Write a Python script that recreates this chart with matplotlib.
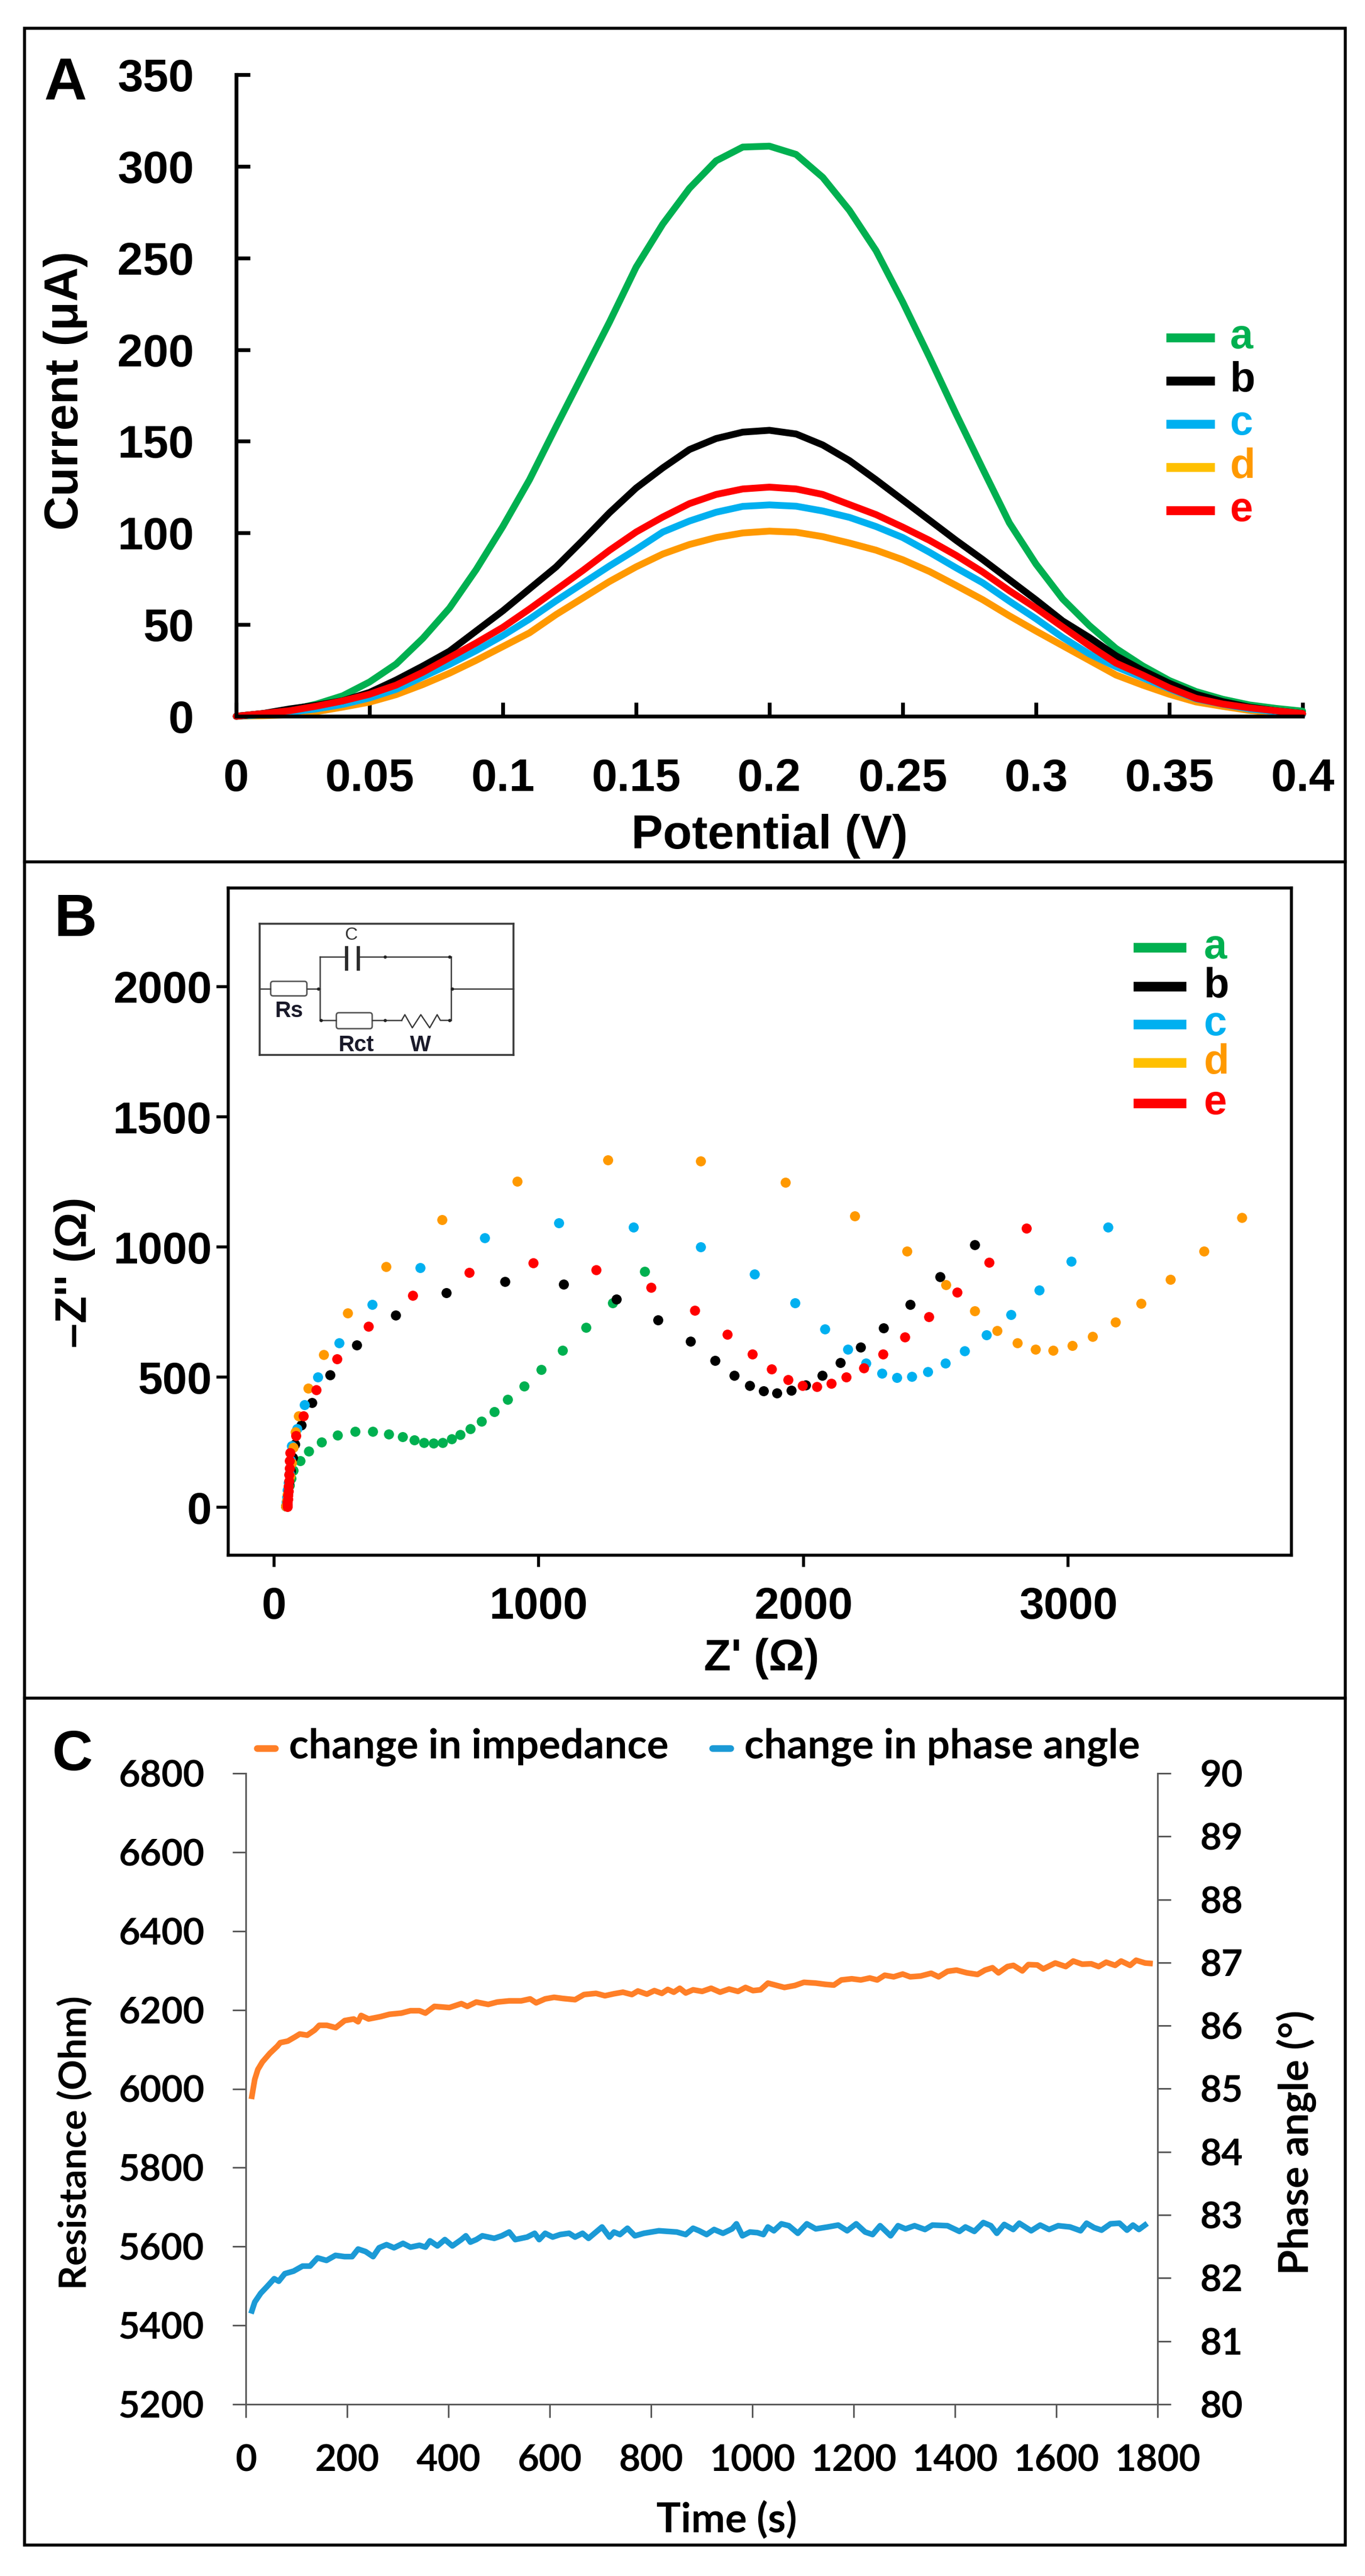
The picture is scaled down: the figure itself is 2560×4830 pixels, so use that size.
import matplotlib
matplotlib.use("Agg")
import matplotlib.pyplot as plt
from matplotlib.lines import Line2D
from matplotlib.patches import Rectangle, FancyBboxPatch

W, H, DPI = 2560, 4830, 200
plt.rcParams['font.family'] = ['Liberation Sans', 'DejaVu Sans']
plt.rcParams['font.weight'] = 'bold'

# ---------------- Panel A data (DPV) ----------------
potential_v = [0.00, 0.01, 0.02, 0.03, 0.04, 0.05, 0.06, 0.07, 0.08, 0.09,
               0.10, 0.11, 0.12, 0.13, 0.14, 0.15, 0.16, 0.17, 0.18, 0.19,
               0.20, 0.21, 0.22, 0.23, 0.24, 0.25, 0.26, 0.27, 0.28, 0.29,
               0.30, 0.31, 0.32, 0.33, 0.34, 0.35, 0.36, 0.37, 0.38, 0.39, 0.40]
current_a = [0, 1.5, 3.3, 6.6, 11.2, 18.7, 28.5, 42.5, 59, 80,
             103.5, 129, 158, 186.5, 215, 245, 268.5, 288, 303, 310.5,
             311, 306.5, 294, 276, 254, 226, 196, 165, 135, 105.5,
             83, 64, 49.5, 37, 27.5, 19.5, 13.5, 9.3, 6.2, 4.3, 2.8]
current_b = [0, 1.5, 4, 6, 8.5, 13, 19.8, 27.4, 35.5, 46.5,
             57.5, 69.5, 81.5, 96, 111, 124.5, 135.5, 145.5, 151.5, 155,
             156, 154, 148, 139.5, 129, 118, 107, 96, 85.5, 74.5,
             63.5, 52, 43, 33, 25, 18, 12, 8, 5, 3, 1.5]
current_c = [0, 0.8, 2.2, 4, 6.5, 10, 14.7, 21.5, 28.3, 35.8,
             44, 53, 63, 72.5, 82, 91, 100.5, 106.5, 111.3, 114.5,
             115.3, 114.6, 112, 108.5, 103.5, 97.5, 89.5, 81, 72.8, 62.8,
             53.2, 43, 34, 27, 21, 15, 9.5, 6.6, 4, 2.5, 1]
current_d = [0, 0.3, 0.8, 2.5, 5, 7.7, 11.8, 17.3, 23.5, 30.5,
             38, 45.5, 55.5, 64.5, 73.5, 81.5, 88.5, 93.7, 97.5, 100,
             101, 100.4, 98, 94.5, 90.6, 85.4, 79, 71.4, 63.6, 54.8,
             46.5, 38.5, 30.5, 22.5, 17, 12, 7.8, 5.4, 3.2, 1.8, 1]
current_e = [0, 1.5, 3, 5.5, 8.4, 12, 17, 24, 32, 40,
             48.5, 58.5, 69, 79.5, 90.5, 100.5, 108.7, 116, 121, 124,
             125, 124, 121, 115.5, 110, 103.2, 96, 87.8, 78.7, 68.5,
             59, 48.7, 38.5, 29, 22.5, 15.5, 9.8, 6.7, 4.6, 3, 1.5]
xticks_a = [0, 0.05, 0.1, 0.15, 0.2, 0.25, 0.3, 0.35, 0.4]
xticklabels_a = ['0', '0.05', '0.1', '0.15', '0.2', '0.25', '0.3', '0.35', '0.4']
yticks_a = [0, 50, 100, 150, 200, 250, 300, 350]

# ---------------- Panel B data (Nyquist) ----------------
zre_a = [45, 48, 50, 53, 58, 64, 73, 98, 131, 179, 240, 307, 373, 434, 485, 529, 567,
         602, 637, 670, 704, 742, 783, 831, 882, 944, 1010, 1089, 1179, 1280, 1400]
zim_a = [5, 20, 38, 60, 85, 112, 141, 178, 216, 251, 276, 291, 291, 282, 271, 258, 249,
         246, 249, 262, 278, 301, 331, 368, 414, 466, 529, 602, 690, 786, 905]
zre_b = [45, 48, 52, 56, 62, 70, 79, 102, 144, 212, 312, 459, 651, 872, 1094, 1293, 1451,
         1573, 1666, 1738, 1797, 1849, 1900, 1953, 2009, 2070, 2139, 2216, 2302, 2402, 2515, 2646]
zim_b = [5, 25, 55, 95, 140, 190, 242, 315, 402, 509, 624, 737, 825, 868, 856, 800, 719,
         637, 564, 507, 468, 446, 439, 450, 470, 507, 555, 615, 688, 779, 885, 1008]
zre_c = [44, 46, 48, 51, 54, 58, 62, 66, 86, 115, 165, 245, 371, 553, 795, 1075, 1357,
         1612, 1815, 1968, 2081, 2167, 2235, 2297, 2352, 2410, 2469, 2536, 2609, 2691, 2784,
         2890, 3012, 3151]
zim_c = [5, 20, 40, 65, 95, 130, 180, 237, 301, 393, 500, 632, 778, 921, 1036, 1092, 1076,
         1001, 895, 785, 684, 607, 553, 514, 498, 502, 520, 553, 600, 663, 739,
         834, 944, 1076]
zre_d = [45, 48, 51, 55, 60, 66, 73, 80, 92, 129, 187, 278, 424, 635, 919, 1261, 1612,
         1932, 2193, 2391, 2537, 2646, 2732, 2807, 2876, 2943, 3015, 3092, 3179, 3276, 3386,
         3513, 3656]
zim_d = [5, 25, 50, 80, 120, 170, 230, 290, 351, 457, 587, 747, 925, 1104, 1252, 1335, 1330,
         1248, 1120, 983, 855, 754, 679, 631, 606, 603, 621, 657, 712, 784, 875,
         983, 1113]
zre_e = [50, 50, 51, 52, 53, 54, 55, 56, 57, 58, 59, 60, 83, 111, 160, 237, 356, 524, 738,
         980, 1217, 1424, 1590, 1713, 1807, 1880, 1941, 1996, 2050, 2104, 2162, 2228, 2300,
         2382, 2474, 2581, 2702, 2842]
zim_e = [3, 10, 20, 32, 46, 62, 80, 100, 125, 150, 178, 210, 274, 351, 452, 569, 695, 814, 902,
         938, 913, 844, 756, 665, 589, 530, 491, 468, 463, 475, 500, 536, 588,
         653, 731, 827, 940, 1072]
xticks_b = [0, 1000, 2000, 3000]
yticks_b = [0, 500, 1000, 1500, 2000]

# ---------------- Panel C data (time series) ----------------
time_imp = [12, 17.7, 23.8, 32.7, 47.5, 62.2, 68, 82.9, 97.7, 106.5, 121.3, 136, 145, 160,
            177.5, 195.2, 213, 221.7, 227.6, 242.4, 266, 283.7, 307.3, 325, 342.8, 354.6,
            372.3, 401.9, 425.5, 437.3, 455, 478.6, 496.4, 520, 543.7, 561.4, 573.2, 591,
            608.6, 626.3, 650, 667.7, 691.3, 709, 726.8, 744.5, 762.2, 774, 791.8, 806.5,
            821.3, 833, 844.9, 856.7, 868.5, 883, 900.9, 918.6, 936.3, 954, 971.8, 986.5,
            1001.3, 1016, 1030.8, 1048.5, 1063.3, 1084, 1101.8, 1125.5, 1143.2, 1160.9,
            1175.7, 1196.3, 1214, 1231.8, 1246.5, 1261.3, 1279, 1296.8, 1311.6, 1332.2,
            1352.9, 1367.7, 1385.4, 1403.1, 1423.8, 1444.5, 1459.3, 1474, 1485.9, 1503.6,
            1515.4, 1533, 1544.9, 1562.6, 1574.4, 1598, 1618.7, 1633.5, 1651.2, 1668.9,
            1683.7, 1698.5, 1716.2, 1728, 1745.8, 1757.6, 1775.3, 1785]
resistance_ohm = [5981, 6024, 6049, 6068, 6090, 6108, 6117, 6121, 6132, 6139, 6136, 6149, 6161, 6161,
                  6155, 6173, 6177, 6170, 6186, 6177, 6183, 6189, 6192, 6198, 6198, 6192,
                  6209, 6206, 6216, 6209, 6220, 6214, 6220, 6223, 6223, 6228, 6218, 6228,
                  6232, 6229, 6226, 6239, 6242, 6236, 6241, 6245, 6239, 6248, 6240, 6249,
                  6242, 6252, 6245, 6255, 6243, 6251, 6247, 6255, 6245, 6253, 6247, 6257,
                  6249, 6251, 6268, 6262, 6257, 6262, 6270, 6268, 6265, 6263,
                  6276, 6279, 6276, 6281, 6276, 6288, 6284, 6291, 6284, 6286,
                  6293, 6284, 6298, 6301, 6294, 6290, 6301, 6307, 6294, 6310,
                  6313, 6299, 6315, 6314, 6304, 6319, 6310, 6324, 6316, 6317,
                  6310, 6321, 6313, 6324, 6313, 6326, 6319, 6318]
time_phase = [12, 17.7, 29.5, 41.3, 56, 65, 77, 94.3, 112, 126.8, 141.6, 159.3, 177, 195,
              209.9, 221.7, 236.5, 251.3, 263.1, 277.8, 292.6, 310.4, 325.1, 342.8, 354.6,
              363.5, 378.3, 393, 407.8, 425.5, 434.4, 443.3, 455, 466.9, 490.5, 505.3, 520,
              531.9, 555.5, 570.3, 579.2, 591, 605.8, 620.6, 638.3, 650, 664.8, 676.6, 688.4,
              703.2, 718, 726.8, 738.6, 753.4, 768.1, 785.8, 815.4, 850.8, 868.5, 883, 895,
              909.7, 924.5, 942, 960, 968.6, 980.4, 995.2, 1010, 1021.8, 1030.7, 1042.5,
              1057.3, 1072, 1089.8, 1107.5, 1125.2, 1148.8, 1169.5, 1187.2, 1205, 1222.7,
              1237.4, 1252.2, 1272.9, 1287.6, 1302.4, 1320.2, 1340.8, 1355.6, 1385.2, 1408.8,
              1420.6, 1438.3, 1456, 1470.8, 1482.6, 1497.3, 1515, 1526.9, 1550.5, 1568.2,
              1585.9, 1603.7, 1627.3, 1648, 1659.8, 1674.6, 1689.4, 1707.1, 1724.8, 1739.6,
              1751.4, 1763.2, 1775]
phase_deg = [81.48, 81.62, 81.76, 81.86, 81.99, 81.95, 82.07, 82.11, 82.19, 82.19, 82.32, 82.28,
             82.36, 82.34, 82.34, 82.46, 82.42, 82.34, 82.48, 82.53, 82.48, 82.55, 82.49, 82.52,
             82.49, 82.59, 82.51, 82.61, 82.51, 82.61, 82.67, 82.57, 82.61, 82.67, 82.63, 82.67,
             82.73, 82.61, 82.65, 82.71, 82.61, 82.71, 82.65, 82.69, 82.71, 82.65, 82.71, 82.63,
             82.71, 82.81, 82.65, 82.73, 82.69, 82.79, 82.67, 82.71, 82.75, 82.73, 82.69, 82.79,
             82.75, 82.69, 82.77, 82.71, 82.78, 82.86, 82.67, 82.73, 82.72, 82.69, 82.81, 82.75,
             82.86, 82.83, 82.71, 82.86, 82.78, 82.81, 82.84, 82.75, 82.86, 82.73, 82.69, 82.83,
             82.67, 82.83, 82.78, 82.83, 82.77, 82.84, 82.83, 82.74, 82.81, 82.74, 82.88, 82.83,
             82.71, 82.85, 82.77, 82.87, 82.75, 82.84, 82.77, 82.83, 82.81, 82.75, 82.87, 82.80,
             82.76, 82.86, 82.87, 82.76, 82.84, 82.77, 82.84]
xticks_c = [0, 200, 400, 600, 800, 1000, 1200, 1400, 1600, 1800]
yticks_c_left = [5200, 5400, 5600, 5800, 6000, 6200, 6400, 6600, 6800]
yticks_c_right = [80, 81, 82, 83, 84, 85, 86, 87, 88, 89, 90]

labels = ['a', 'b', 'c', 'd', 'e']
colors = {'a': '#00B050', 'b': '#000000', 'c': '#00B0F0', 'd': '#FF9900', 'e': '#FF0000'}
legend_handle_colors = {'a': '#00B050', 'b': '#000000', 'c': '#00B0F0', 'd': '#FFC000', 'e': '#FF0000'}
col_imp = '#FF7F27'
col_phase = '#1B9AD6'


def fx(x):
    return x / W


def fy(y):
    return 1 - y / H


def rect(l, t, r, b):
    return [l / W, 1 - b / H, (r - l) / W, (b - t) / H]


fig = plt.figure(figsize=(W / DPI, H / DPI), dpi=DPI)

# ================= Panel A =================
axA = fig.add_axes(rect(443, 140, 2443, 1343))
curves = {'a': current_a, 'b': current_b, 'c': current_c, 'd': current_d, 'e': current_e}
for k in ['a', 'd', 'c', 'b', 'e']:
    axA.plot(potential_v, curves[k], color=colors[k], lw=4.6, clip_on=False,
             solid_capstyle='round', solid_joinstyle='round')
axA.set_xlim(0, 0.4)
axA.set_ylim(0, 350)
for s in ['top', 'right']:
    axA.spines[s].set_visible(False)
for s in ['left', 'bottom']:
    axA.spines[s].set_linewidth(2.6)
axA.set_xticks(xticks_a, xticklabels_a)
axA.set_yticks(yticks_a)
axA.tick_params(axis='both', direction='in', length=9.5, width=2.6, labelsize=31)
axA.tick_params(axis='x', pad=28)
axA.tick_params(axis='y', pad=28.5)
axA.set_xlabel('Potential (V)', fontsize=32, fontweight='bold')
axA.set_ylabel('Current (μA)', fontsize=32, fontweight='bold')
axA.xaxis.label.set_va('center')
axA.yaxis.label.set_va('center')
axA.xaxis.set_label_coords(0.5, (1343 - 1568) / 1203)
axA.yaxis.set_label_coords((123 - 443) / 2000, (1343 - 732) / 1203)

# legend A
ysA = [633, 714, 795, 876, 957]
for k, y in zip(labels, ysA):
    fig.add_artist(Line2D([fx(2187), fx(2278)], [fy(y), fy(y)], color=legend_handle_colors[k],
                          lw=6, solid_capstyle='butt'))
    fig.text(fx(2307), fy(y + 20), k, color=colors[k], fontsize=28, fontweight='bold',
             ha='left', va='baseline')

# ================= Panel B =================
axB = fig.add_axes(rect(428, 1665, 2422, 2916))
nyq = {'a': (zre_a, zim_a), 'b': (zre_b, zim_b), 'c': (zre_c, zim_c),
       'd': (zre_d, zim_d), 'e': (zre_e, zim_e)}
for k in labels:
    axB.plot(nyq[k][0], nyq[k][1], 'o', ms=6.8, mew=0, color=colors[k])
axB.set_xlim(-173, 3843)
axB.set_ylim(-184, 2379)
for s in axB.spines.values():
    s.set_linewidth(2.0)
axB.set_xticks(xticks_b)
axB.set_yticks(yticks_b)
axB.tick_params(axis='both', direction='out', length=8, width=2.0, labelsize=30)
axB.tick_params(axis='x', pad=13)
axB.tick_params(axis='y', pad=3)
axB.set_xlabel("Z' (Ω)", fontsize=30, fontweight='bold')
axB.set_ylabel("–Z'' (Ω)", fontsize=30, fontweight='bold')
axB.xaxis.label.set_va('center')
axB.yaxis.label.set_va('center')
axB.xaxis.set_label_coords((1428 - 428) / 1994, (2916 - 3110) / 1251)
axB.yaxis.set_label_coords((140 - 428) / 1994, (2916 - 2386) / 1251)

# legend B
ysB = [1777, 1850, 1921, 1993, 2069]
for k, y in zip(labels, ysB):
    fig.add_artist(Line2D([fx(2126), fx(2225)], [fy(y), fy(y)], color=legend_handle_colors[k],
                          lw=6.5, solid_capstyle='butt'))
    fig.text(fx(2258), fy(y + 20), k, color=colors[k], fontsize=28, fontweight='bold',
             ha='left', va='baseline')

# inset: equivalent circuit
axI = fig.add_axes(rect(487, 1732, 963, 1978))
axI.set_xlim(50, 1480)
axI.set_ylim(775, 35)
axI.set_xticks([])
axI.set_yticks([])
for s in axI.spines.values():
    s.set_linewidth(1.3)
    s.set_color('#3a3a3a')
wc = '#3a3a3a'
wires = [
    [(50, 403), (110, 403)],
    [(318, 403), (390, 403)],
    [(390, 220), (390, 580)],
    [(390, 220), (540, 220)],
    [(605, 220), (1128, 220)],
    [(390, 580), (480, 580)],
    [(685, 580), (850, 580)],
    [(850, 580), (868, 548), (910, 622), (958, 548), (1008, 622), (1050, 548), (1068, 580), (1128, 580)],
    [(1128, 220), (1128, 580)],
    [(1128, 403), (1480, 403)],
]
for wpts in wires:
    axI.plot([p[0] for p in wpts], [p[1] for p in wpts], color=wc, lw=0.9, clip_on=False)
for xp in [540, 605]:
    axI.plot([xp, xp], [170, 290], color='#2a2a2a', lw=2.2)
for (x0, y0, w0, h0) in [(112, 360, 204, 82), (482, 537, 202, 90)]:
    axI.add_patch(FancyBboxPatch((x0, y0), w0, h0, boxstyle='round,pad=0,rounding_size=14',
                                 fc='white', ec='#555555', lw=1.0))
for (xd, yd) in [(380, 403), (755, 220), (1120, 220), (395, 580), (755, 580), (1120, 580), (1135, 403)]:
    axI.plot(xd, yd, 'o', ms=2.2, color='#222222', mew=0)
axI.text(565, 100, 'C', fontsize=12, fontweight='normal', ha='center', va='center', color='#333333')
axI.text(215, 528, 'Rs', fontsize=15, fontweight='bold', ha='center', va='center', color='#1a1a2a')
axI.text(592, 722, 'Rct', fontsize=15, fontweight='bold', ha='center', va='center', color='#1a1a2a')
axI.text(955, 722, 'W', fontsize=15, fontweight='bold', ha='center', va='center', color='#1a1a2a')

# ================= Panel C =================
gc = '#595959'
axC = fig.add_axes(rect(461, 3325, 2171, 4508))
axC.plot(time_imp, resistance_ohm, color=col_imp, lw=3.8, solid_joinstyle='round')
axC.set_xlim(0, 1800)
axC.set_ylim(5200, 6800)
axC2 = axC.twinx()
axC2.plot(time_phase, phase_deg, color=col_phase, lw=3.8, solid_joinstyle='round')
axC2.set_ylim(80, 90)
axC.spines['top'].set_visible(False)
axC.spines['right'].set_visible(False)
axC2.spines['top'].set_visible(False)
axC2.spines['left'].set_visible(False)
axC2.spines['bottom'].set_visible(False)
for s in ['left', 'bottom']:
    axC.spines[s].set_linewidth(1.1)
    axC.spines[s].set_color(gc)
axC2.spines['right'].set_linewidth(1.1)
axC2.spines['right'].set_color(gc)
tfont = dict(fontfamily=['Lato', 'DejaVu Sans'], fontweight='bold', fontsize=25)
axC.set_xticks(xticks_c, [str(v) for v in xticks_c], **tfont)
axC.set_yticks(yticks_c_left, [str(v) for v in yticks_c_left], **tfont)
axC2.set_yticks(yticks_c_right, [str(v) for v in yticks_c_right], **tfont)
axC.tick_params(axis='both', direction='out', length=9, width=1.1, color=gc)
axC2.tick_params(axis='y', direction='out', length=9, width=1.1, color=gc)
axC.tick_params(axis='x', pad=18)
axC.tick_params(axis='y', pad=19)
axC2.tick_params(axis='y', pad=19.5)
axC.set_xlabel('Time (s)', fontfamily=['Lato', 'DejaVu Sans'], fontweight='bold', fontsize=27.5)
axC.set_ylabel('Resistance (Ohm)', fontfamily=['Lato', 'DejaVu Sans'], fontweight='bold', fontsize=25.5)
axC2.set_ylabel('Phase angle (°)', fontfamily=['Lato', 'DejaVu Sans'], fontweight='bold', fontsize=27.5)
for lab in [axC.xaxis.label, axC.yaxis.label, axC2.yaxis.label]:
    lab.set_va('center')
    lab.set_ha('center')
axC.xaxis.set_label_coords((1363 - 461) / 1710, (4508 - 4725) / 1183)
axC.yaxis.set_label_coords((140 - 461) / 1710, (4508 - 4018) / 1183)
axC2.yaxis.set_label_coords((2431 - 461) / 1710, (4508 - 4017) / 1183)

# legend C
for (x0, x1, xt, col, txt) in [(482, 516, 542, col_imp, 'change in impedance'),
                               (1336, 1370, 1396, col_phase, 'change in phase angle')]:
    fig.add_artist(Line2D([fx(x0), fx(x1)], [fy(3278), fy(3278)], color=col, lw=4.5,
                          solid_capstyle='round'))
    fig.text(fx(xt), fy(3297), txt, fontfamily=['Lato', 'DejaVu Sans'], fontweight='bold',
             fontsize=27.5, ha='left', va='baseline', color='black')

# ================= panel letters & frames =================
fig.text(fx(82), fy(105), 'A', fontsize=40, fontweight='bold', ha='left', va='top')
fig.text(fx(102), fy(1674), 'B', fontsize=40, fontweight='bold', ha='left', va='top')
fig.text(fx(98), fy(3242), 'C', fontsize=38, fontweight='bold', ha='left', va='top')

fig.add_artist(Rectangle((fx(46), fy(4772)), (2523 - 46) / W, (4772 - 53) / H, fill=False,
                         lw=2.0, ec='black', transform=fig.transFigure))
for ysep in [1616, 3184]:
    fig.add_artist(Line2D([fx(46), fx(2523)], [fy(ysep), fy(ysep)], color='black', lw=2.0))

fig.savefig('out.png', dpi=DPI, facecolor='white')
